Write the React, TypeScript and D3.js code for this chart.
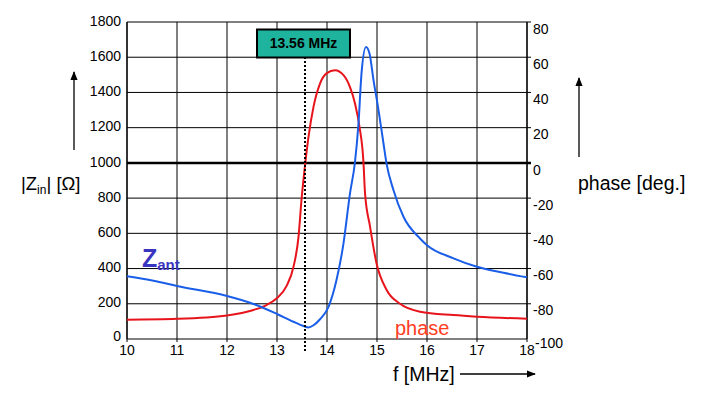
import React from 'react';
import * as d3 from 'd3';

// |Z_ant| in ohm
const zFreq = [10, 10.53, 11, 12, 12.53, 13, 13.33, 13.53, 13.63, 13.73, 13.86, 14.03, 14.19, 14.33, 14.46, 14.56, 14.63, 14.69, 14.78, 14.85, 14.93, 15.03, 15.13, 15.19, 15.33, 15.53, 15.86, 16, 16.53, 17, 17.53, 18];
const zValues = [357, 331, 301, 244, 199, 142, 98, 74, 66, 78, 112, 183, 335, 543, 827, 1005, 1224, 1508, 1658, 1621, 1470, 1300, 1110, 997, 845, 694, 571, 533, 458, 410, 376, 350];

// phase in degrees
const phFreq = [10, 11, 12, 12.53, 12.79, 12.99, 13.19, 13.33, 13.43, 13.49, 13.57, 13.63, 13.73, 13.86, 13.99, 14.16, 14.33, 14.46, 14.56, 14.65, 14.73, 14.76, 14.86, 14.99, 15.19, 15.46, 15.86, 16.53, 17, 18];
const phValues = [-89, -88.5, -86.6, -83.5, -80.7, -77, -70, -59, -42, -21, 1, 14.8, 31.8, 45, 50.8, 52.6, 49.8, 43, 33.7, 20.5, 0, -17, -36, -57, -72, -80, -84.5, -86.4, -87.3, -88.5];

const xTicks = [10, 11, 12, 13, 14, 15, 16, 17, 18];
const zTicks = [0, 200, 400, 600, 800, 1000, 1200, 1400, 1600, 1800];
const phTicks = [-100, -80, -60, -40, -20, 0, 20, 40, 60, 80];
const marker = 13.56;

const W = 701;
const H = 394;
const FONT = "'Liberation Sans', Arial, sans-serif";

export default function App() {
  const x = d3.scaleLinear().domain([10, 18]).range([127, 527]);
  const yZ = d3.scaleLinear().domain([0, 1800]).range([339, 22]);
  const yPh = d3.scaleLinear().domain([-100, 80]).range([339, 22]);

  const zLine = d3.line<number>()
    .x((_, i) => x(zFreq[i]))
    .y(d => yZ(d))
    .curve(d3.curveMonotoneX);
  const phLine = d3.line<number>()
    .x((_, i) => x(phFreq[i]))
    .y(d => yPh(d))
    .curve(d3.curveMonotoneX);

  const [x0, x1] = x.range();
  const [yb, yt] = yZ.range();

  return (
    <svg width={W} height={H} style={{ position: 'absolute', left: 0, top: 0, background: '#fff' }} fontFamily={FONT}>
      <defs>
        <marker id="arr" viewBox="0 0 10 10" refX="9" refY="5" markerWidth="7" markerHeight="7" orient="auto-start-reverse">
          <path d="M0,1 L10,5 L0,9 z" fill="#000" />
        </marker>
      </defs>

      {/* grid */}
      {zTicks.map(t => (
        <line key={'h' + t} x1={x0} x2={t === 0 ? x1 : x1 + 4} y1={yZ(t)} y2={yZ(t)}
          stroke="#000" strokeWidth={t === 1000 ? 2.5 : 1} />
      ))}
      {xTicks.map(t => (
        <line key={'v' + t} x1={x(t)} x2={x(t)} y1={yt} y2={yb + 3} stroke="#000" strokeWidth={1} />
      ))}
      <line x1={x0} x2={x0} y1={yt} y2={yb} stroke="#000" strokeWidth={1.2} />
      <line x1={x1} x2={x1} y1={yt} y2={yb} stroke="#000" strokeWidth={1.2} />

      {/* left ticks */}
      {zTicks.map(t => (
        <text key={'lz' + t} x={121} y={yZ(t) + (t === 0 ? -2 : 0)} textAnchor="end" dominantBaseline="middle" fontSize={14} fill="#000">{t}</text>
      ))}
      {/* right ticks */}
      {phTicks.map(t => (
        <text key={'rp' + t} x={t === -100 ? 535 : 533} y={yPh(t) + (t === -100 ? 5 : 8)} dominantBaseline="middle" fontSize={14} fill="#000">{t}</text>
      ))}
      {/* bottom ticks */}
      {xTicks.map(t => (
        <text key={'bx' + t} x={x(t)} y={351} textAnchor="middle" dominantBaseline="middle" fontSize={14} fill="#000">{t}</text>
      ))}

      {/* curves */}
      <path d={phLine(phValues) ?? ''} fill="none" stroke="#e8141c" strokeWidth={2} />
      <path d={zLine(zValues) ?? ''} fill="none" stroke="#1a5ee8" strokeWidth={2} />

      {/* 13.56 MHz marker */}
      <line x1={x(marker)} x2={x(marker)} y1={57} y2={353} stroke="#000" strokeWidth={2} strokeDasharray="2,2" />
      <rect x={257} y={29.5} width={93} height={28} fill="#1eb39c" stroke="#000" strokeWidth={2} />
      <text x={303.5} y={44} textAnchor="middle" dominantBaseline="middle" fontSize={14} fontWeight="bold" fill="#000">13.56 MHz</text>

      {/* series labels */}
      <text x={142} y={267} fontSize={25} fontWeight="bold" fill="#3a35c0">Z<tspan fontSize={15} dy={3}>ant</tspan></text>
      <text x={395} y={335} fontSize={20} fill="#ff3c1e">phase</text>

      {/* axis titles */}
      <text x={21} y={190} fontSize={18.5} fill="#000">|Z<tspan fontSize={12} dy={4}>in</tspan><tspan dy={-4}>| [Ω]</tspan></text>
      <line x1={74} x2={74} y1={150} y2={72} stroke="#000" strokeWidth={1.3} markerEnd="url(#arr)" />
      <text x={578} y={190} fontSize={19.5} fill="#000">phase [deg.]</text>
      <line x1={579} x2={579} y1={157} y2={78} stroke="#000" strokeWidth={1.3} markerEnd="url(#arr)" />
      <text x={393} y={381} fontSize={19.5} fill="#000">f [MHz]</text>
      <line x1={460} x2={535} y1={374} y2={374} stroke="#000" strokeWidth={1.3} markerEnd="url(#arr)" />
    </svg>
  );
}
